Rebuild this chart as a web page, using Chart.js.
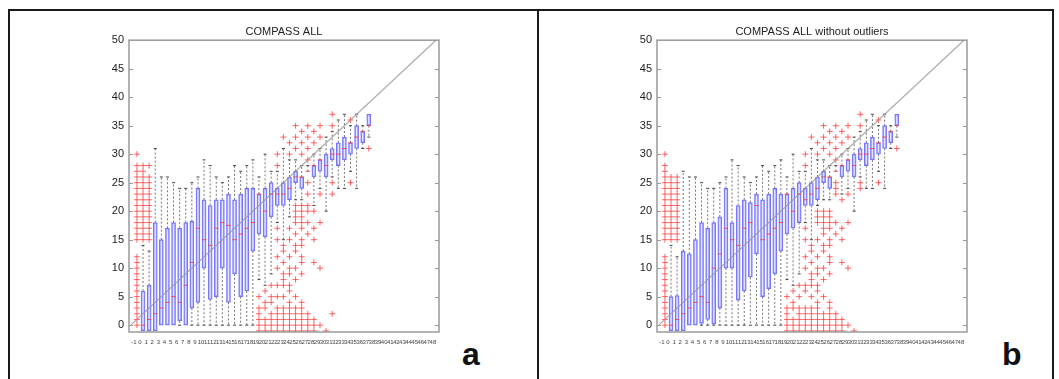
<!DOCTYPE html>
<html>
<head>
<meta charset="utf-8">
<script src="https://cdn.jsdelivr.net/npm/chart.js@4.4.0/dist/chart.umd.min.js"></script>
<style>
  body { margin: 0; background: #fff; width: 1059px; height: 379px; overflow: hidden; position: relative; font-family: "Liberation Sans", Arial, sans-serif; }
  .frame { position: absolute; left: 8px; top: 9px; width: 1042px; height: 420px; border: 2px solid #1a1a1a; }
  .divider { position: absolute; left: 537px; top: 9px; width: 2px; height: 420px; background: #1a1a1a; }
  .panel { position: absolute; top: 18px; }
  .tag { position: absolute; top: 338px; font-size: 32px; font-weight: bold; color: #111; line-height: 1; }
</style>
</head>
<body>
<div class="frame"></div>
<div class="divider"></div>
<div class="panel" style="left:80px"><canvas id="chartA" width="372" height="340"></canvas></div>
<div class="panel" style="left:608px"><canvas id="chartB" width="372" height="340"></canvas></div>
<div class="tag" style="left:462px">a</div>
<div class="tag" style="left:1002px">b</div>
<script>
// group labels on the x axis (one box per group)
const groups = [-1, 0, 1, 2, 3, 4, 5, 6, 7, 8, 9, 10, 11, 12, 13, 14, 15, 16, 17, 18,
  19, 20, 21, 22, 23, 24, 25, 26, 27, 28, 29, 30, 31, 32, 33, 34, 35, 36, 37];

// y = x reference line
const diagX = [-2, 48];
const diagY = [0, 50];

// COMPASS ALL
const aLow = [null, -1, -1, -1, 0, 0, 0, 0, 0, 0, 0, 0, 0, 0, 0, 0, 0, 0, 0, 0,
  8, 7, 9, 18, 15, 19, 22, 22, 27, 21, 24, 20, 26, 24, 24, 27, 24, 31, 33];
const aQ1 = [null, -1, -1, -1, 0, 0, 0, 0.75, 0, 3, 4, 10, 4.5, 5, 10, 4, 9, 5, 6, 13,
  16, 15.5, 19, 21, 21, 22, 25, 24, 27, 26, 27, 26, 29, 28, 29, 30, 31, 32, 35];
const aMed = [null, 0, 1, 2, 3, 4, 5, 4, 7, 11, 17, 15, 14, 17, 18, 17.5, 15, 16, 17, 18,
  23, 20, 23, 23, 23, 24, 26, 26, 27, 28, 29, 28, 30, 30, 31, 32, 33, 34, 35];
const aQ3 = [null, 6, 7, 18, 15, 17, 18, 17, 18, 18.2, 24, 22, 21, 22, 22, 23, 22, 23, 24, 24,
  23, 24, 25, 24, 25, 26, 27, 26, 27, 28, 29, 30, 31, 32, 33, 32, 35, 34, 37];
const aHigh = [null, 14, 13, 31, 26, 26, 25, 24, 24, 25, 26, 29, 28, 26, 25, 26, 28, 27, 28, 29,
  26, 30, 27, 27, 31, 29, 29, 28, 28, 30, 31, 33, 34, 36, 37, 35, 37, 35, 37];
const aOutliers = [
  [0, 1, 2, 3, 4, 5, 6, 7, 8, 9, 10, 11, 12, 15, 16, 17, 18, 19, 20, 21, 22, 23, 24, 25, 26, 27, 28, 30],
  [15, 16, 17, 18, 19, 20, 21, 22, 23, 24, 25, 26, 27, 28],
  [15, 16, 17, 18, 19, 20, 21, 22, 23, 24, 25, 26, 28],
  [], [], [], [], [], [], [], [], [], [], [], [], [], [], [], [], [],
  [5, 3, 2, 1, 0, -1],
  [6, 4, 3, 1, 0, -1],
  [7, 5, 4, 2, 1, 0, -1],
  [30, 28, 17, 15, 12, 10, 7, 5, 3, 2, 1, 0, -1],
  [33, 14, 13, 11, 9, 8, 7, 5, 3, 2, 1, 0, -1],
  [32, 30, 17, 15, 12, 10, 9, 7, 6, 4, 3, 2, 1, 0, -1],
  [35, 33, 31, 21, 20, 19, 18, 16, 14, 13, 10, 8, 5, 3, 2, 1, 0, -1],
  [34, 32, 30, 21, 20, 19, 18, 17, 15, 14, 12, 11, 9, 4, 3, 2, 1, 0, -1],
  [35, 33, 31, 29, 25, 23, 21, 20, 18, 16, 2, 1, 0, -1],
  [34, 32, 20, 17, 15, 11, 1, 0, -1],
  [35, 33, 23, 18, 10, 0],
  [-1],
  [37, 35, 25, 23, 2],
  [], [], [36, 25], [], [], [31]
];

// COMPASS ALL without outliers
const bLow = [null, -1, -1, -1, 0, 0, 0, 0, 0, 0, 0, 0, 0, 0, 0, 0, 0, 0, 0, 0,
  8, 7, 9, 18, 15, 21, 22, 22, 27, 23, 24, 20, 26, 24, 24, 27, 24, 31, 33];
const bQ1 = [null, -1, -1, -1, 0, 0, 0.3, 1, 0.2, 3, 10, 10, 4.4, 6, 8.4, 12.5, 5, 6.4, 9, 13,
  16, 17, 18, 21, 21, 22, 25, 24, 27, 26, 27, 26, 29, 28, 29, 30, 31, 32, 35];
const bMed = [null, 0, 1, 2, 3, 4, 5, 4, 10, 12.5, 17, 15, 14, 17, 18, 21, 15, 16, 17, 18,
  23, 20, 23, 22, 23, 24, 26, 26, 27, 28, 29, 28, 30, 30, 31, 32, 33, 34, 35];
const bQ3 = [null, 5, 5.2, 13, 12.5, 15, 18, 17, 18, 19, 24, 18, 21, 22, 21.5, 23, 22, 23, 24, 23,
  23, 24, 25, 24, 25, 26, 27, 26, 27, 28, 29, 30, 31, 32, 33, 32, 35, 34, 37];
const bHigh = [null, 14, 12, 27, 26, 26, 25, 24, 24, 25, 26, 29, 28, 26, 25, 26, 28, 27, 28, 29,
  26, 30, 27, 27, 31, 29, 29, 28, 28, 30, 31, 33, 34, 36, 37, 35, 37, 35, 37];
const bOutliers = [
  [0, 1, 2, 3, 4, 5, 6, 7, 8, 9, 10, 11, 12, 15, 16, 17, 18, 19, 20, 21, 22, 23, 24, 25, 26, 27, 28, 30],
  [15, 16, 17, 18, 19, 20, 21, 22, 23, 24, 25, 26],
  [15, 16, 17, 18, 19, 20, 21, 22, 23, 24, 25, 26],
  [], [], [], [], [], [], [], [], [], [], [], [], [], [], [], [], [],
  [5, 3, 2, 1, 0, -1],
  [6, 4, 3, 1, 0, -1],
  [7, 5, 3, 2, 1, 0, -1],
  [30, 28, 17, 15, 12, 10, 7, 6, 3, 2, 1, 0, -1],
  [33, 14, 13, 11, 9, 8, 7, 5, 3, 2, 1, 0, -1],
  [32, 30, 20, 19, 18, 15, 12, 10, 9, 7, 6, 4, 3, 2, 1, 0, -1],
  [35, 33, 31, 20, 19, 18, 17, 16, 14, 13, 10, 8, 5, 2, 1, 0, -1],
  [34, 32, 30, 20, 19, 18, 17, 15, 14, 12, 11, 9, 4, 3, 2, 1, 0, -1],
  [35, 33, 31, 29, 25, 24, 23, 18, 16, 2, 1, 0, -1],
  [34, 32, 22, 17, 15, 11, 1, 0, -1],
  [35, 33, 23, 18, 10, 0],
  [-1],
  [37, 35, 25, 24],
  [], [], [36, 25], [], [], [31]
];

// x labels run from -1 to 48
const xTickFirst = -1;
const xTickLast = 48;

// box frame with inward ticks, drawn over the plot like matlab's "box on"
const axisBox = {
  id: "axisBox",
  afterDraw(chart) {
    const { ctx, chartArea: a, scales: { y } } = chart;
    ctx.save();
    ctx.strokeStyle = "#9a9a9a";
    ctx.lineWidth = 1.5;
    ctx.strokeRect(a.left, a.top, a.right - a.left, a.bottom - a.top);
    ctx.lineWidth = 1;
    ctx.beginPath();
    y.ticks.forEach((t) => {
      const py = Math.round(y.getPixelForValue(t.value)) + 0.5;
      ctx.moveTo(a.left, py);
      ctx.lineTo(a.left + 4, py);
      ctx.moveTo(a.right - 4, py);
      ctx.lineTo(a.right, py);
    });
    ctx.stroke();
    ctx.restore();
  },
};

function buildDatasets(low, q1, med, q3, high, outliers) {
  const boxes = [], medians = [], whiskers = [], caps = [], crosses = [];
  groups.forEach((g, i) => {
    outliers[i].forEach((v) => crosses.push({ x: g, y: v }));
    if (q1[i] === null) return;
    boxes.push({ x: g, y: [q1[i], q3[i]] });
    medians.push({ x: g, y: med[i] });
    if (high[i] > q3[i]) {
      whiskers.push({ x: g, y: q3[i] }, { x: g, y: high[i] }, { x: g, y: null });
      caps.push({ x: g, y: high[i] });
    }
    if (low[i] < q1[i]) {
      whiskers.push({ x: g, y: q1[i] }, { x: g, y: low[i] }, { x: g, y: null });
      caps.push({ x: g, y: low[i] });
    }
  });
  return [
    {
      type: "line", data: diagX.map((x, i) => ({ x, y: diagY[i] })),
      borderColor: "rgba(150,150,150,0.8)", borderWidth: 1.2, pointRadius: 0, order: 1,
    },
    {
      type: "scatter", data: crosses, pointStyle: "cross", pointRadius: 3, pointHoverRadius: 3,
      borderColor: "rgba(255,50,50,0.75)", borderWidth: 1, clip: 0, order: 2,
    },
    {
      type: "scatter", data: medians, pointStyle: "line", pointRadius: 2.2, pointHoverRadius: 2.2,
      borderColor: "rgba(255,60,60,0.9)", borderWidth: 1, order: 3,
    },
    {
      type: "bar", data: boxes, barThickness: 4, borderWidth: 1, borderSkipped: false,
      borderColor: "rgba(90,90,255,0.85)", backgroundColor: "rgba(195,195,255,0.4)", order: 4,
    },
    {
      type: "scatter", data: caps, pointStyle: "line", pointRadius: 1.5, pointHoverRadius: 1.5,
      borderColor: "#444", borderWidth: 1, order: 5,
    },
    {
      type: "line", data: whiskers, borderColor: "rgba(50,50,50,0.75)", borderWidth: 0.9,
      borderDash: [2, 2], pointRadius: 0, spanGaps: false, order: 6,
    },
  ];
}

function renderPanel(canvasId, title, datasets) {
  new Chart(document.getElementById(canvasId), {
    type: "bar",
    data: { datasets },
    options: {
      responsive: false,
      animation: false,
      events: [],
      devicePixelRatio: 1,
      layout: { padding: { right: 13, left: 0, bottom: 0 } },
      plugins: {
        legend: { display: false },
        tooltip: { enabled: false },
        title: {
          display: true, text: title, fullSize: false, color: "#222",
          font: { family: "Liberation Sans", size: 11, weight: "normal" },
          padding: { top: 7, bottom: 2 },
        },
      },
      scales: {
        x: {
          type: "linear", min: -2.3, max: 48.5, offset: false,
          grid: { display: false, drawTicks: false, offset: false },
          border: { display: false },
          afterFit: (s) => { s.height = 26; },
          afterBuildTicks: (s) => {
            s.ticks = s.ticks.filter((t) => t.value >= xTickFirst && t.value <= xTickLast);
          },
          ticks: {
            stepSize: 1, includeBounds: false, autoSkip: false, maxRotation: 0, minRotation: 0,
            labelOffset: -3, padding: 7, color: "#444",
            font: { family: "Liberation Sans", size: 6 },
          },
        },
        y: {
          type: "linear", min: -1.2, max: 50,
          grid: { display: false, drawTicks: false },
          border: { display: false },
          afterFit: (s) => { s.width = 49; },
          ticks: {
            stepSize: 5, includeBounds: false, padding: 5, color: "#222",
            font: { family: "Liberation Sans", size: 11 },
          },
        },
      },
    },
    plugins: [axisBox],
  });
}

document.addEventListener("DOMContentLoaded", () => {
  renderPanel("chartA", "COMPASS ALL", buildDatasets(aLow, aQ1, aMed, aQ3, aHigh, aOutliers));
  renderPanel("chartB", "COMPASS ALL without outliers", buildDatasets(bLow, bQ1, bMed, bQ3, bHigh, bOutliers));
});
</script>
</body>
</html>
